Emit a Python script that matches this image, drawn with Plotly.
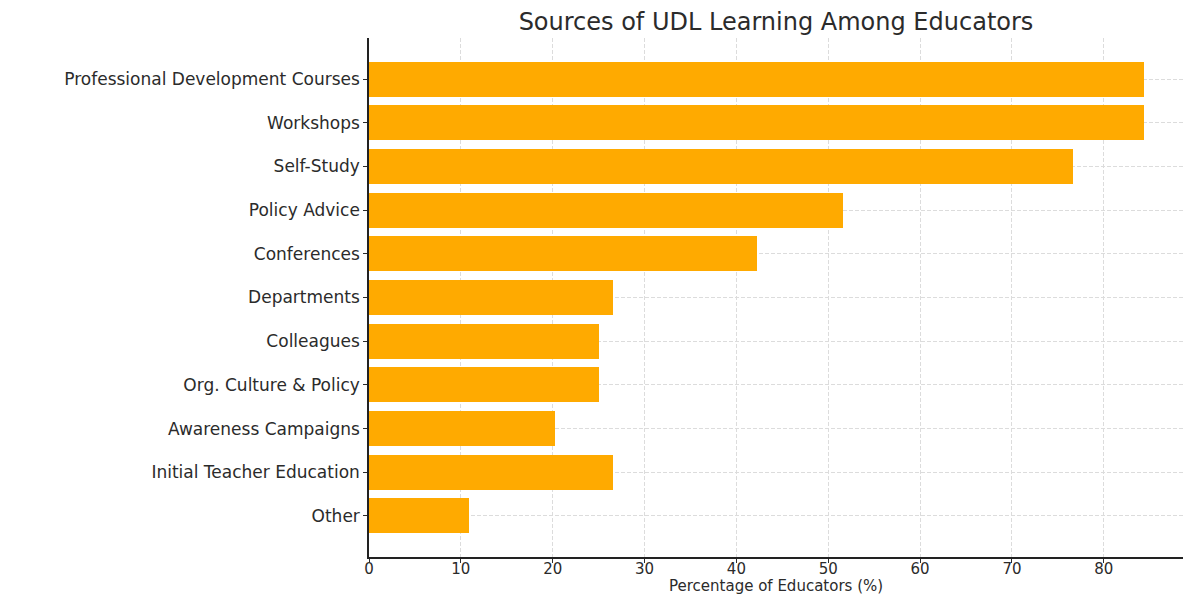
import plotly.graph_objects as go

# Learning sources and share of educators citing each (%)
sources = [
    "Professional Development Courses",
    "Workshops",
    "Self-Study",
    "Policy Advice",
    "Conferences",
    "Departments",
    "Colleagues",
    "Org. Culture & Policy",
    "Awareness Campaigns",
    "Initial Teacher Education",
    "Other",
]
percentages = [84.4, 84.4, 76.6, 51.6, 42.2, 26.6, 25.0, 25.0, 20.3, 26.6, 10.9]
x_ticks = [0, 10, 20, 30, 40, 50, 60, 70, 80]

FONT = "DejaVu Sans"
TEXT_COLOR = "#2b2b2b"
BAR_COLOR = "#FFAA00"
GRID_COLOR = "#dcdcdc"

W, H = 1185, 594
M_L, M_R, M_T, M_B = 369, 2, 38, 37
plot_h = H - M_T - M_B

fig = go.Figure(
    go.Bar(
        x=percentages,
        y=sources,
        orientation="h",
        width=0.8,
        marker=dict(color=BAR_COLOR, line=dict(width=0)),
    )
)

n = len(sources)
fig.update_layout(
    width=W,
    height=H,
    paper_bgcolor="white",
    plot_bgcolor="white",
    margin=dict(l=M_L, r=M_R, t=M_T, b=M_B, autoexpand=False),
    showlegend=False,
    font=dict(family=FONT, size=16, color=TEXT_COLOR),
    title=dict(
        text="Sources of UDL Learning Among Educators",
        x=(M_L + W - M_R) / 2 / W,
        xanchor="center",
        y=1 - 22 / H,
        yanchor="middle",
        font=dict(family=FONT, size=24, color=TEXT_COLOR),
    ),
    bargap=0,
)

# x-axis title placed just under the tick labels
fig.add_annotation(
    text="Percentage of Educators (%)",
    xref="paper",
    yref="paper",
    x=0.5,
    y=-(586 - (H - M_B)) / plot_h,
    xanchor="center",
    yanchor="middle",
    showarrow=False,
    font=dict(family=FONT, size=15, color=TEXT_COLOR),
)

fig.update_xaxes(
    range=[0, max(percentages) * 1.05],
    tickvals=x_ticks,
    ticks="outside",
    ticklen=4,
    tickcolor=TEXT_COLOR,
    ticklabelstandoff=-7,
    showline=True,
    linecolor="#222222",
    linewidth=1.5,
    showgrid=True,
    gridcolor=GRID_COLOR,
    griddash="4px,2px",
    gridwidth=1,
    zeroline=False,
    automargin=False,
    tickfont=dict(size=15),
)

fig.update_yaxes(
    type="category",
    categoryorder="array",
    categoryarray=sources,
    range=[n - 1 + 0.94, -0.94],
    ticks="outside",
    ticklen=4,
    tickcolor=TEXT_COLOR,
    showline=True,
    linecolor="#222222",
    linewidth=1.5,
    showgrid=True,
    gridcolor=GRID_COLOR,
    griddash="4px,2px",
    gridwidth=1,
    zeroline=False,
    automargin=False,
    tickfont=dict(size=17),
)

fig.write_html("out.html")
